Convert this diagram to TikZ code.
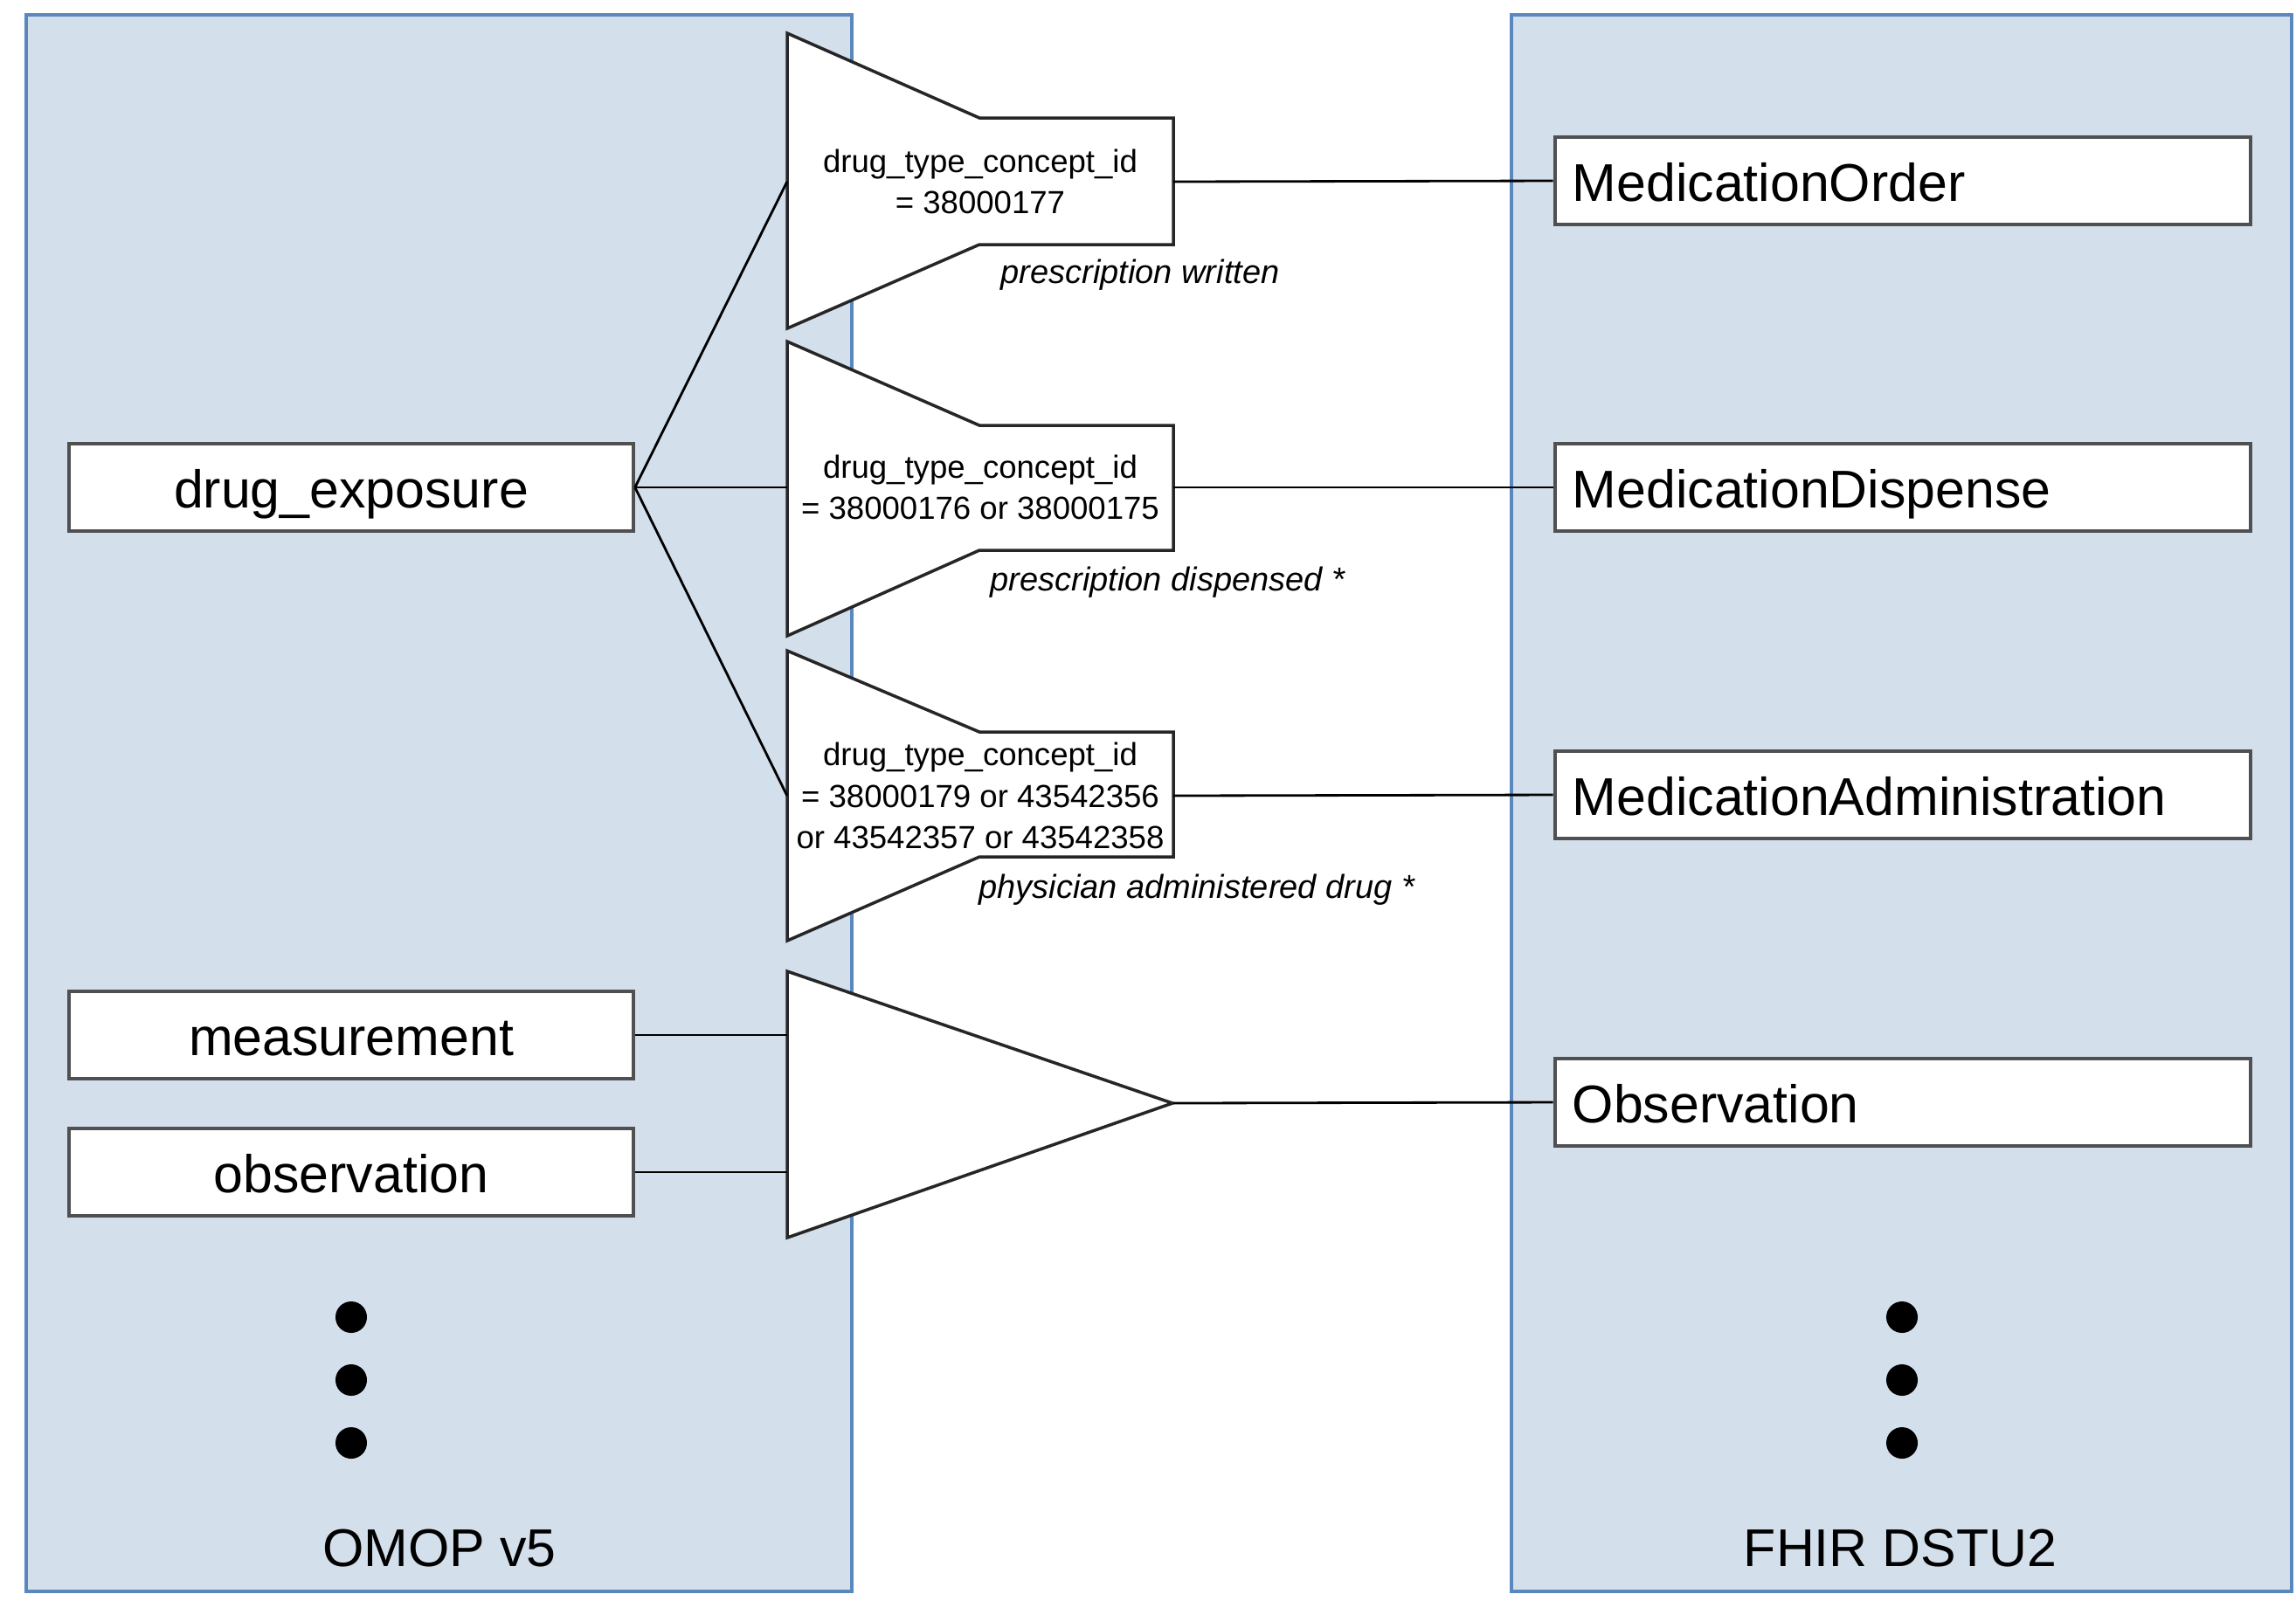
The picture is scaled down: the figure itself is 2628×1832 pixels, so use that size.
\documentclass[tikz,border=0pt]{standalone}
\usepackage{fontspec}
\setmainfont{Liberation Sans}
\usetikzlibrary{positioning}

\definecolor{panelfill}{HTML}{D4DFEC}
\definecolor{paneldraw}{HTML}{5A88BE}
\definecolor{boxdraw}{HTML}{505050}

\begin{document}
\begin{tikzpicture}[
  x=0.01cm, y=-0.01cm,
  big/.style={font=\fontsize{17.3}{20}\selectfont},
  panel/.style={draw=paneldraw, fill=panelfill, line width=1.1pt},
  lbox/.style={draw=boxdraw, fill=white, line width=1.2pt, big,
               minimum width=6.45cm, minimum height=1cm, inner sep=0pt,
               text height=13.5pt, text depth=0pt},
  rbox/.style={draw=boxdraw, fill=white, line width=1.2pt, big,
               text width=7.56cm, inner xsep=0.2cm, inner ysep=0pt,
               minimum height=1cm, align=left,
               text height=13.5pt, text depth=0pt},
  funnel/.style={draw=black!85, fill=white, line width=1pt},
  ftext/.style={font=\fontsize{10.4}{13.4}\selectfont, align=center,
                minimum width=4.42cm, inner sep=0pt, outer sep=0pt},
  note/.style={font=\fontsize{10.8}{13}\selectfont\itshape, anchor=west,
               inner sep=0pt},
  link/.style={draw=black, line width=0.8pt},
  dot/.style={fill=black, circle, minimum size=0.36cm, inner sep=0pt}
]
\useasboundingbox (0,0) rectangle (2628,1832);

% the two models
\draw[panel] (30,17) rectangle (975,1822);
\draw[panel] (1730,17) rectangle (2623,1822);
\node[big] (omop) at (503,1773) {OMOP v5};
\node[big] (fhir) at (2175,1773) {FHIR DSTU2};

% filters
\draw[funnel] (901,38) -- (1121,135) -- (1343,135) -- (1343,280)
  -- (1121,280) -- (901,376) -- cycle;
\draw[funnel] (901,391) -- (1121,487) -- (1343,487) -- (1343,630)
  -- (1121,630) -- (901,728) -- cycle;
\draw[funnel] (901,745) -- (1121,838) -- (1343,838) -- (1343,981)
  -- (1121,981) -- (901,1077) -- cycle;
\draw[funnel] (901,1112) -- (1342,1263) -- (901,1417) -- cycle;

\node[ftext] (f1) at (1122,208) {drug\_type\_concept\_id\\= 38000177};
\node[ftext] (f2) at (1122,558) {drug\_type\_concept\_id\\
  = 38000176 or 38000175};
\node[ftext] (f3) at (1122,911) {drug\_type\_concept\_id\\
  = 38000179 or 43542356\\or 43542357 or 43542358};
\node[ftext] (f4) at (1122,1263) {};

\node[note] (n1) at (1145,315) {prescription written};
\node[note] (n2) at (1133,667) {prescription dispensed *};
\node[note] (n3) at (1120,1019) {physician administered drug *};

% OMOP tables
\node[lbox] (de) at (402,558) {drug\_exposure};
\node[lbox] (meas) at (402,1185) {measurement};
\node[lbox] (obs) at (402,1342) {observation};
\node[dot] (ld1) at (402,1508) {};
\node[dot] (ld2) at (402,1580) {};
\node[dot] (ld3) at (402,1652) {};

% FHIR resources
\node[rbox] (order) at (2178,207) {MedicationOrder};
\node[rbox] (disp) at (2178,558) {MedicationDispense};
\node[rbox] (admin) at (2178,910) {MedicationAdministration};
\node[rbox] (obsf) at (2178,1262) {Observation};
\node[dot] (rd1) at (2177,1508) {};
\node[dot] (rd2) at (2177,1580) {};
\node[dot] (rd3) at (2177,1652) {};

% links
\draw[link] (de.east) -- (f1.west);
\draw[link] (de.east) -- (f2.west);
\draw[link] (de.east) -- (f3.west);
\draw[link] (meas.east) -- (meas.east -| f4.west);
\draw[link] (obs.east) -- (obs.east -| f4.west);
\draw[link] (f1.east) -- (order.west);
\draw[link] (f2.east) -- (disp.west);
\draw[link] (f3.east) -- (admin.west);
\draw[link] (f4.east) -- (obsf.west);
\end{tikzpicture}
\end{document}
